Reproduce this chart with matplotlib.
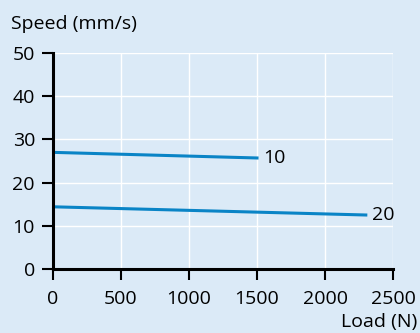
import matplotlib.pyplot as plt

# load (N) vs speed (mm/s) for two leads
load_10 = [0, 1500]
speed_10 = [27.0, 25.7]
load_20 = [0, 2300]
speed_20 = [14.4, 12.5]
curve_labels = ["10", "20"]

xticks = [0, 500, 1000, 1500, 2000, 2500]
yticks = [0, 10, 20, 30, 40, 50]

bg = "#dbeaf7"
blue = "#0a84c6"

plt.rcParams["font.family"] = ["Open Sans", "DejaVu Sans"]
fs = 14

fig = plt.figure(figsize=(4.2, 3.33), dpi=100, facecolor=bg)
ax = fig.add_axes([53 / 420, 1 - 269 / 333, 340 / 420, 216 / 333])
ax.set_facecolor(bg)

ax.plot(load_10, speed_10, color=blue, lw=2.2)
ax.plot(load_20, speed_20, color=blue, lw=2.2)
ax.text(load_10[-1] + 45, speed_10[-1], curve_labels[0], va="center", ha="left", fontsize=fs)
ax.text(load_20[-1] + 45, speed_20[-1], curve_labels[1], va="center", ha="left", fontsize=fs)

ax.set_xlim(0, 2500)
ax.set_ylim(0, 50)
ax.set_xticks(xticks)
ax.set_yticks(yticks)
ax.grid(True, color="white", lw=1)
ax.set_axisbelow(True)

for s in ["top", "right"]:
    ax.spines[s].set_visible(False)
for s in ["left", "bottom"]:
    ax.spines[s].set_linewidth(2.2)
ax.tick_params(axis="x", direction="out", length=8, width=1.5, labelsize=fs, pad=7)
ax.tick_params(axis="y", direction="out", length=8, width=1.5, labelsize=fs, pad=5)

fig.text(11 / 420, 1 - 24 / 333, "Speed (mm/s)", fontsize=fs, va="center", ha="left")
fig.text(417 / 420, 1 - 322 / 333, "Load (N)", fontsize=fs, va="center", ha="right")

fig.savefig("out.png", dpi=100, facecolor=bg)
